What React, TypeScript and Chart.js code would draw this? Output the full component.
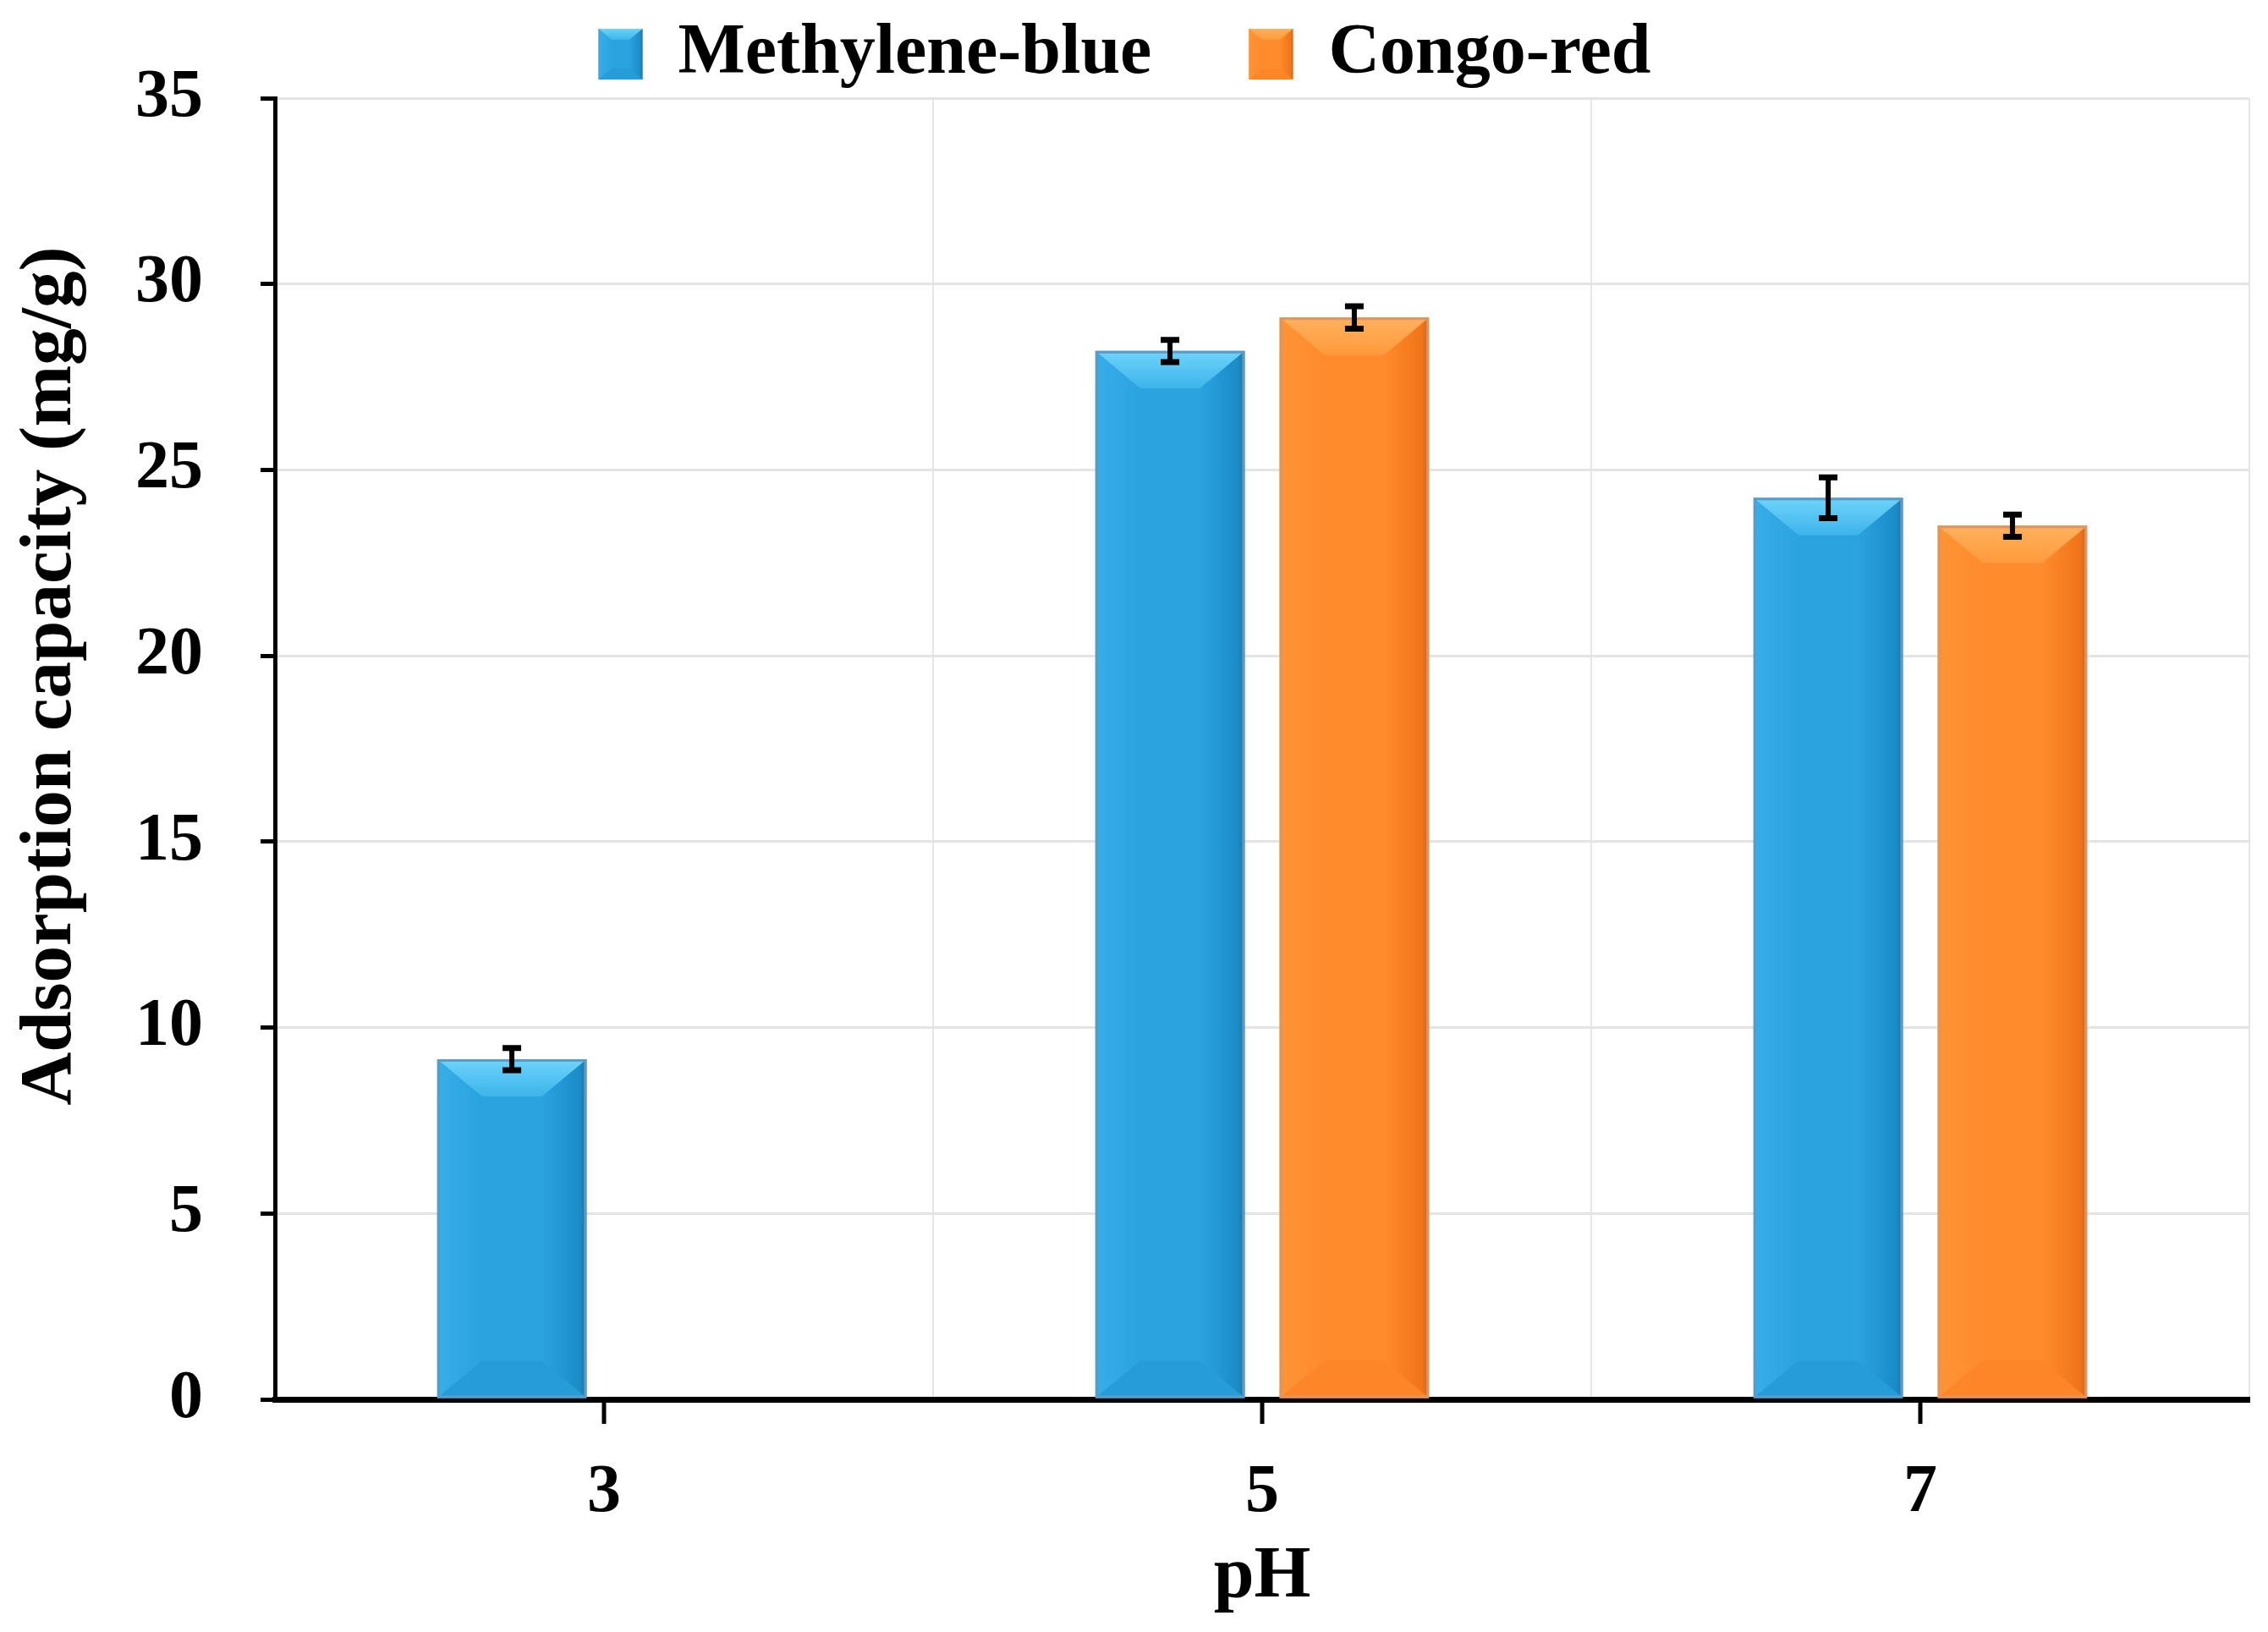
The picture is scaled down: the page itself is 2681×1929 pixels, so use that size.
import React, { useEffect, useRef } from 'react';
import { Chart, registerables } from 'chart.js';

Chart.register(...registerables);

const categories = ['3', '5', '7'];
const methyleneBlue = [9.15, 28.2, 24.25];
const methyleneBlueErr = [0.3, 0.3, 0.55];
const congoRed = [null, 29.1, 23.5];
const congoRedErr = [0, 0.3, 0.3];
const seriesNames = ['Methylene-blue', 'Congo-red'];
const yMin = 0;
const yMax = 35;
const yStep = 5;
const xTitle = 'pH';
const yTitle = 'Adsorption capacity (mg/g)';

const FONT = "'Liberation Serif', 'Times New Roman', serif";

const palettes = [
  { main: '#2BA3DF', topLight: '#6ED4FB', top: '#3DB4EA', left: '#37AEE8', right: '#1A8CC8', edge: '#2A6F98', bottom: '#279DD8', outline: '#5A9CC6' },
  { main: '#FF8B2C', topLight: '#FFB15E', top: '#FF9A3C', left: '#FF9436', right: '#F07418', edge: '#C8642A', bottom: '#FC8628', outline: '#E09460' },
];

function poly(ctx: CanvasRenderingContext2D, pts: number[][], fill: string | CanvasGradient) {
  ctx.beginPath();
  ctx.moveTo(pts[0][0], pts[0][1]);
  for (let i = 1; i < pts.length; i++) ctx.lineTo(pts[i][0], pts[i][1]);
  ctx.closePath();
  ctx.fillStyle = fill;
  ctx.fill();
}

function bevel(ctx: CanvasRenderingContext2D, x: number, y: number, w: number, h: number, pal: any, outline = true) {
  const dy = Math.min(w * 0.25, h / 2);
  const dx = Math.min(w * 0.3, w / 2);
  ctx.save();
  const gl = ctx.createLinearGradient(x, 0, x + dx, 0);
  gl.addColorStop(0, pal.left);
  gl.addColorStop(1, pal.main);
  poly(ctx, [[x, y], [x + dx, y + dy], [x + dx, y + h - dy], [x, y + h]], gl);
  const gr = ctx.createLinearGradient(x + w - dx, 0, x + w, 0);
  gr.addColorStop(0, pal.main);
  gr.addColorStop(0.85, pal.right);
  gr.addColorStop(1, pal.edge);
  poly(ctx, [[x + w, y], [x + w - dx, y + dy], [x + w - dx, y + h - dy], [x + w, y + h]], gr);
  const gt = ctx.createLinearGradient(0, y, 0, y + dy);
  gt.addColorStop(0, pal.topLight);
  gt.addColorStop(1, pal.top);
  poly(ctx, [[x, y], [x + w, y], [x + w - dx, y + dy], [x + dx, y + dy]], gt);
  poly(ctx, [[x, y + h], [x + w, y + h], [x + w - dx, y + h - dy], [x + dx, y + h - dy]], pal.bottom);
  if (outline) {
    ctx.strokeStyle = pal.outline;
    ctx.lineWidth = 3;
    ctx.strokeRect(x + 1.5, y + 1.5, w - 3, h - 3);
  }
  ctx.restore();
}

const bevelPlugin = {
  id: 'bevelBars',
  afterDatasetsDraw(chart: any) {
    const ctx = chart.ctx;
    chart.data.datasets.forEach((ds: any, i: number) => {
      const meta = chart.getDatasetMeta(i);
      meta.data.forEach((el: any, j: number) => {
        if (ds.data[j] == null) return;
        const p = el.getProps(['x', 'y', 'base', 'width'], true);
        const left = p.x - p.width / 2;
        const top = Math.min(p.y, p.base);
        const h = Math.abs(p.base - p.y);
        bevel(ctx, left, top, p.width, h, palettes[i]);
      });
    });
  },
  afterDraw(chart: any) {
    const lg = chart.legend;
    if (!lg || !lg.legendHitBoxes) return;
    const lab = lg.options.labels;
    const fontSize = lab.font.size;
    lg.legendHitBoxes.forEach((hb: any, i: number) => {
      const bw = lab.boxWidth;
      const bh = lab.boxHeight;
      const top = hb.top + Math.max((fontSize - bh) / 2, 0);
      bevel(chart.ctx, hb.left, top, bw, bh, palettes[i], false);
    });
  },
};

const errorBarPlugin = {
  id: 'errorBars',
  afterDatasetsDraw(chart: any) {
    const ctx = chart.ctx;
    const ys = chart.scales.y;
    chart.data.datasets.forEach((ds: any, i: number) => {
      const meta = chart.getDatasetMeta(i);
      meta.data.forEach((el: any, j: number) => {
        const v = ds.data[j];
        const e = ds.errors ? ds.errors[j] : 0;
        if (v == null || !e) return;
        const x = el.x;
        const yt = ys.getPixelForValue(v + e);
        const yb = ys.getPixelForValue(v - e);
        ctx.save();
        ctx.strokeStyle = '#000';
        ctx.lineWidth = 6;
        ctx.beginPath();
        ctx.moveTo(x, yt);
        ctx.lineTo(x, yb);
        ctx.stroke();
        ctx.lineWidth = 7;
        ctx.beginPath();
        ctx.moveTo(x - 11, yt);
        ctx.lineTo(x + 11, yt);
        ctx.moveTo(x - 11, yb);
        ctx.lineTo(x + 11, yb);
        ctx.stroke();
        ctx.restore();
      });
    });
  },
};

const xTickMarks = {
  id: 'xTickMarks',
  afterDraw(chart: any) {
    const xs = chart.scales.x;
    const ctx = chart.ctx;
    const b = chart.chartArea.bottom;
    ctx.save();
    ctx.strokeStyle = '#000';
    ctx.lineWidth = 5;
    xs.ticks.forEach((_t: any, i: number) => {
      const px = xs.getPixelForValue(i);
      ctx.beginPath();
      ctx.moveTo(px, b);
      ctx.lineTo(px, b + 29);
      ctx.stroke();
    });
    ctx.restore();
  },
};

// the y-axis title sits above the plot centre in the reference: shift it only while it is drawn
const Y_TITLE_SHIFT = 86;
const yTitleShift = {
  id: 'yTitleShift',
  beforeDraw(chart: any) {
    const y = chart.scales.y;
    if (!y || y.__shiftWrapped) return;
    const orig = y.drawTitle;
    y.drawTitle = function (this: any, ...args: any[]) {
      this.top -= Y_TITLE_SHIFT;
      this.bottom -= Y_TITLE_SHIFT;
      try {
        orig.apply(this, args);
      } finally {
        this.top += Y_TITLE_SHIFT;
        this.bottom += Y_TITLE_SHIFT;
      }
    };
    y.__shiftWrapped = true;
  },
};

export default function App() {
  const ref = useRef<HTMLCanvasElement | null>(null);
  useEffect(() => {
    document.body.style.margin = '0';
    const canvas = ref.current;
    if (!canvas) return;
    const chart = new Chart(canvas, {
      type: 'bar',
      data: {
        labels: categories,
        datasets: [
          {
            label: seriesNames[0],
            data: methyleneBlue,
            errors: methyleneBlueErr,
            backgroundColor: palettes[0].main,
            borderWidth: 0,
            categoryPercentage: 0.56,
            barPercentage: 0.81,
          } as any,
          {
            label: seriesNames[1],
            data: congoRed,
            errors: congoRedErr,
            backgroundColor: palettes[1].main,
            borderWidth: 0,
            categoryPercentage: 0.56,
            barPercentage: 0.81,
          } as any,
        ],
      },
      options: {
        animation: false,
        responsive: false,
        devicePixelRatio: 1,
        layout: { padding: { top: -100, left: 0, right: 22, bottom: 0 } },
        plugins: {
          tooltip: { enabled: false },
          legend: {
            display: true,
            position: 'top',
            labels: {
              color: '#000',
              font: { family: FONT, size: 84, weight: 'bold' },
              boxWidth: 52,
              boxHeight: 60,
              padding: 115,
            },
          },
        },
        scales: {
          x: {
            type: 'category',
            afterFit(scale: any) {
              scale.height = 275;
            },
            grid: {
              offset: true,
              drawTicks: false,
              lineWidth: 2,
              color: (ctx: any) => (ctx.index === 0 || ctx.index === categories.length ? 'rgba(0,0,0,0)' : '#E6E6E6'),
            },
            border: { display: true, color: '#000', width: 7 },
            ticks: {
              color: '#000',
              padding: 63,
              font: { family: FONT, size: 80, weight: 'bold' },
            },
            title: {
              display: true,
              text: xTitle,
              color: '#000',
              font: { family: FONT, size: 86, weight: 'bold' },
              padding: { top: 0, bottom: 13 },
            },
          },
          y: {
            min: yMin,
            max: yMax,
            afterFit(scale: any) {
              scale.width = 325;
            },
            ticks: {
              stepSize: yStep,
              color: '#000',
              padding: 68,
              font: { family: FONT, size: 80, weight: 'bold' },
            },
            grid: {
              color: '#E4E4E4',
              lineWidth: 3,
              tickLength: 17,
              tickColor: '#000',
              tickWidth: 5,
            },
            border: { display: true, color: '#000', width: 5 },
            title: {
              display: true,
              text: yTitle,
              color: '#000',
              font: { family: FONT, size: 87, weight: 'bold' },
              padding: { top: 8, bottom: 0 },
            },
          },
        },
      } as any,
      plugins: [yTitleShift, bevelPlugin, errorBarPlugin, xTickMarks],
    });
    return () => chart.destroy();
  }, []);
  return (
    <div style={{ width: 2681, height: 1929 }}>
      <canvas ref={ref} width={2681} height={1929} style={{ display: 'block' }} />
    </div>
  );
}
